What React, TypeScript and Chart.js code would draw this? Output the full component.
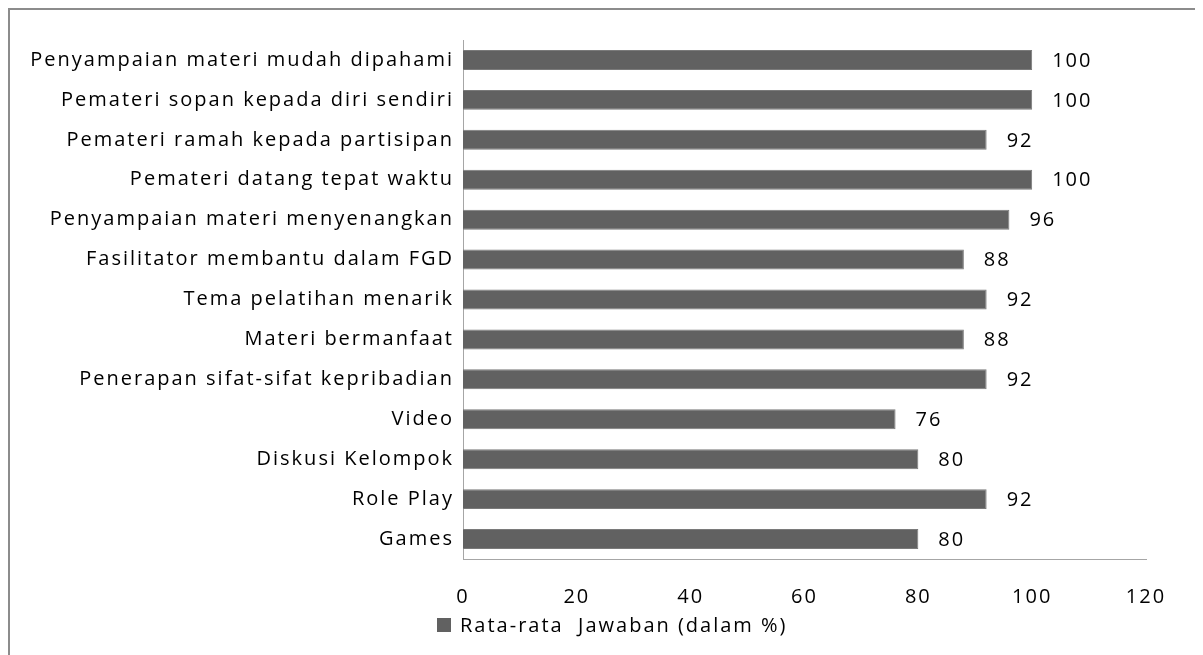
import React, { useEffect, useRef } from "react";
import { Chart, registerables } from "chart.js";

Chart.register(...registerables);

const categories: string[] = [
  "Penyampaian materi mudah dipahami",
  "Pemateri sopan kepada diri sendiri",
  "Pemateri ramah kepada partisipan",
  "Pemateri datang tepat waktu",
  "Penyampaian materi menyenangkan",
  "Fasilitator membantu dalam FGD",
  "Tema pelatihan menarik",
  "Materi bermanfaat",
  "Penerapan sifat-sifat kepribadian",
  "Video",
  "Diskusi Kelompok",
  "Role Play",
  "Games",
];

const values: number[] = [100, 100, 92, 100, 96, 88, 92, 88, 92, 76, 80, 92, 80];

const seriesLabel = "Rata-rata  Jawaban (dalam %)";
const xTicks: number[] = [0, 20, 40, 60, 80, 100, 120];

const FONT = "'Open Sans', Lato, sans-serif";
const SIZE = 20;
const SPACING = "2px";

export default function App() {
  const ref = useRef<HTMLCanvasElement | null>(null);
  useEffect(() => {
    if (!ref.current) return;
    const spacingPlugin = {
      id: "letterSpacing",
      beforeUpdate(chart: any) {
        (chart.ctx as any).letterSpacing = SPACING;
      },
      beforeLayout(chart: any) {
        (chart.ctx as any).letterSpacing = SPACING;
      },
      beforeDraw(chart: any) {
        (chart.ctx as any).letterSpacing = SPACING;
      },
    };
    const labelPlugin = {
      id: "valueLabels",
      afterDraw(chart: any) {
        const ctx = chart.ctx;
        const meta = chart.getDatasetMeta(0);
        ctx.save();
        ctx.letterSpacing = SPACING;
        ctx.font = `${SIZE}px ${FONT}`;
        ctx.fillStyle = "#000";
        ctx.textAlign = "left";
        ctx.textBaseline = "middle";
        meta.data.forEach((el: any, i: number) => {
          ctx.fillText(String(values[i]), el.x + 20, el.y + 1);
        });
        // legend
        const x0 = 437 - 10;
        const yc = 625 - 10;
        ctx.fillStyle = "#616161";
        ctx.fillRect(x0, yc - 7, 14, 14);
        ctx.fillStyle = "#000";
        ctx.fillText(seriesLabel, x0 + 23, yc + 1);
        ctx.restore();
      },
    };
    const chart = new Chart(ref.current, {
      type: "bar",
      data: {
        labels: categories,
        datasets: [
          {
            label: seriesLabel,
            data: values,
            backgroundColor: "#616161",
            borderColor: "#7a7a7a",
            borderWidth: 1,
            barPercentage: 0.5,
            categoryPercentage: 1,
          },
        ],
      },
      options: {
        indexAxis: "y",
        animation: false,
        responsive: false,
        maintainAspectRatio: false,
        layout: { padding: { top: 30, right: 49, bottom: 49, left: 0 } },
        plugins: {
          tooltip: { enabled: false },
          legend: { display: false },
        },
        scales: {
          x: {
            min: 0,
            max: 120,
            afterFit(scale: any) {
              scale.height = 47;
            },
            afterBuildTicks(scale: any) {
              scale.ticks = xTicks.map((v) => ({ value: v }));
            },
            grid: { display: false, drawTicks: false },
            border: { display: true, color: "#a6a6a6", width: 1 },
            ticks: {
              color: "#000",
              font: { family: FONT, size: SIZE },
              padding: 26,
              maxRotation: 0,
            },
          },
          y: {
            afterFit(scale: any) {
              scale.width = 453;
            },
            grid: { display: false, drawTicks: false },
            border: { display: true, color: "#a6a6a6", width: 1 },
            ticks: {
              color: "#000",
              font: { family: FONT, size: SIZE },
              padding: 9,
              autoSkip: false,
            },
          },
        },
      },
      plugins: [spacingPlugin, labelPlugin],
    });
    return () => chart.destroy();
  }, []);
  return (
    <div
      style={{
        width: 1185,
        height: 660,
        border: "2px solid #8c8c8c",
        boxSizing: "content-box",
      }}
    >
      <canvas ref={ref} width={1185} height={645} style={{ display: "block" }} />
    </div>
  );
}
